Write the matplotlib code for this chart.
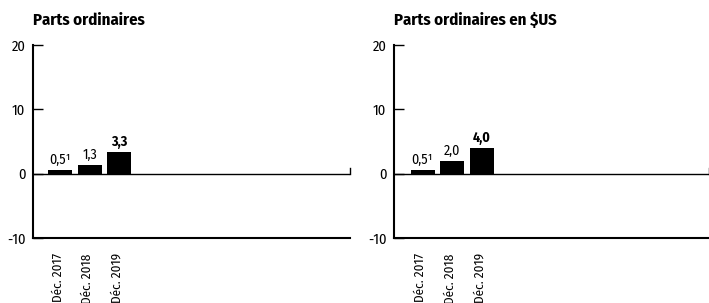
import matplotlib
matplotlib.use("Agg")
import matplotlib.pyplot as plt
from matplotlib import font_manager

categories = ["Déc. 2017", "Déc. 2018", "Déc. 2019"]
titles = ["Parts ordinaires", "Parts ordinaires en $US"]
values_left = [0.5, 1.3, 3.3]
values_right = [0.5, 2.0, 4.0]
labels_left = ["0,5¹", "1,3", "3,3"]
labels_right = ["0,5¹", "2,0", "4,0"]
bold_flags = [False, False, True]
yticks = [-10, 0, 10, 20]

entries = font_manager.fontManager.ttflist
def has_bold(name):
    ws = [f.weight for f in entries if f.name == name]
    return any((w if isinstance(w, int) else 400) >= 600 or w == "bold" for w in ws) and len(ws) > 0
prefs = ["Fira Sans Condensed", "PT Sans Narrow", "Roboto Condensed", "Archivo Narrow", "Liberation Sans"]
chosen = "Liberation Sans"
for p in prefs:
    if has_bold(p):
        chosen = p
        break
plt.rcParams["font.family"] = [chosen, "DejaVu Sans"]

fig = plt.figure(figsize=(7.09, 3.03), dpi=100)
axes_rects = [
    [33/709, 65/303, 317/709, 193/303],
    [394/709, 65/303, 315/709, 193/303],
]
xlims = [(-0.92, 9.83), (-0.96, 9.63)]
spacing = [29.5, 29.75]
datasets = [(values_left, labels_left), (values_right, labels_right)]

for rect, xl, sp, (vals, labs), title in zip(axes_rects, xlims, spacing, datasets, titles):
    ax = fig.add_axes(rect)
    x = list(range(len(categories)))
    ax.bar(x, vals, width=24/sp, color="black", zorder=3)
    ax.set_xlim(*xl)
    ax.set_ylim(-10, 20)
    ax.axhline(0, color="black", lw=1.0, zorder=4)
    ax.axvline(xl[1], ymin=10/30, ymax=10.9/30, color="black", lw=1.0, clip_on=False)
    for xi, v, lab, b in zip(x, vals, labs, bold_flags):
        ax.text(xi, v + 0.5, lab, ha="center", va="bottom", fontsize=10,
                fontweight="bold" if b else "normal")
    for s in ["top", "right"]:
        ax.spines[s].set_visible(False)
    for s in ["left", "bottom"]:
        ax.spines[s].set_linewidth(1.5)
    ax.set_yticks(yticks)
    ax.set_yticklabels([str(t) for t in yticks], fontsize=10.5)
    ax.tick_params(axis="y", direction="in", length=7, width=1.0, pad=5.5)
    ax.set_xticks([xi - 0.07 for xi in x])
    ax.set_xticklabels(categories, rotation=90, fontsize=9.5, va="top", ha="center")
    ax.tick_params(axis="x", length=0, pad=11)
    ax.text(0, 1.0 + 0.085, title, transform=ax.transAxes, fontsize=12,
            fontweight="bold", ha="left", va="bottom")

fig.savefig("out.png", dpi=100)
